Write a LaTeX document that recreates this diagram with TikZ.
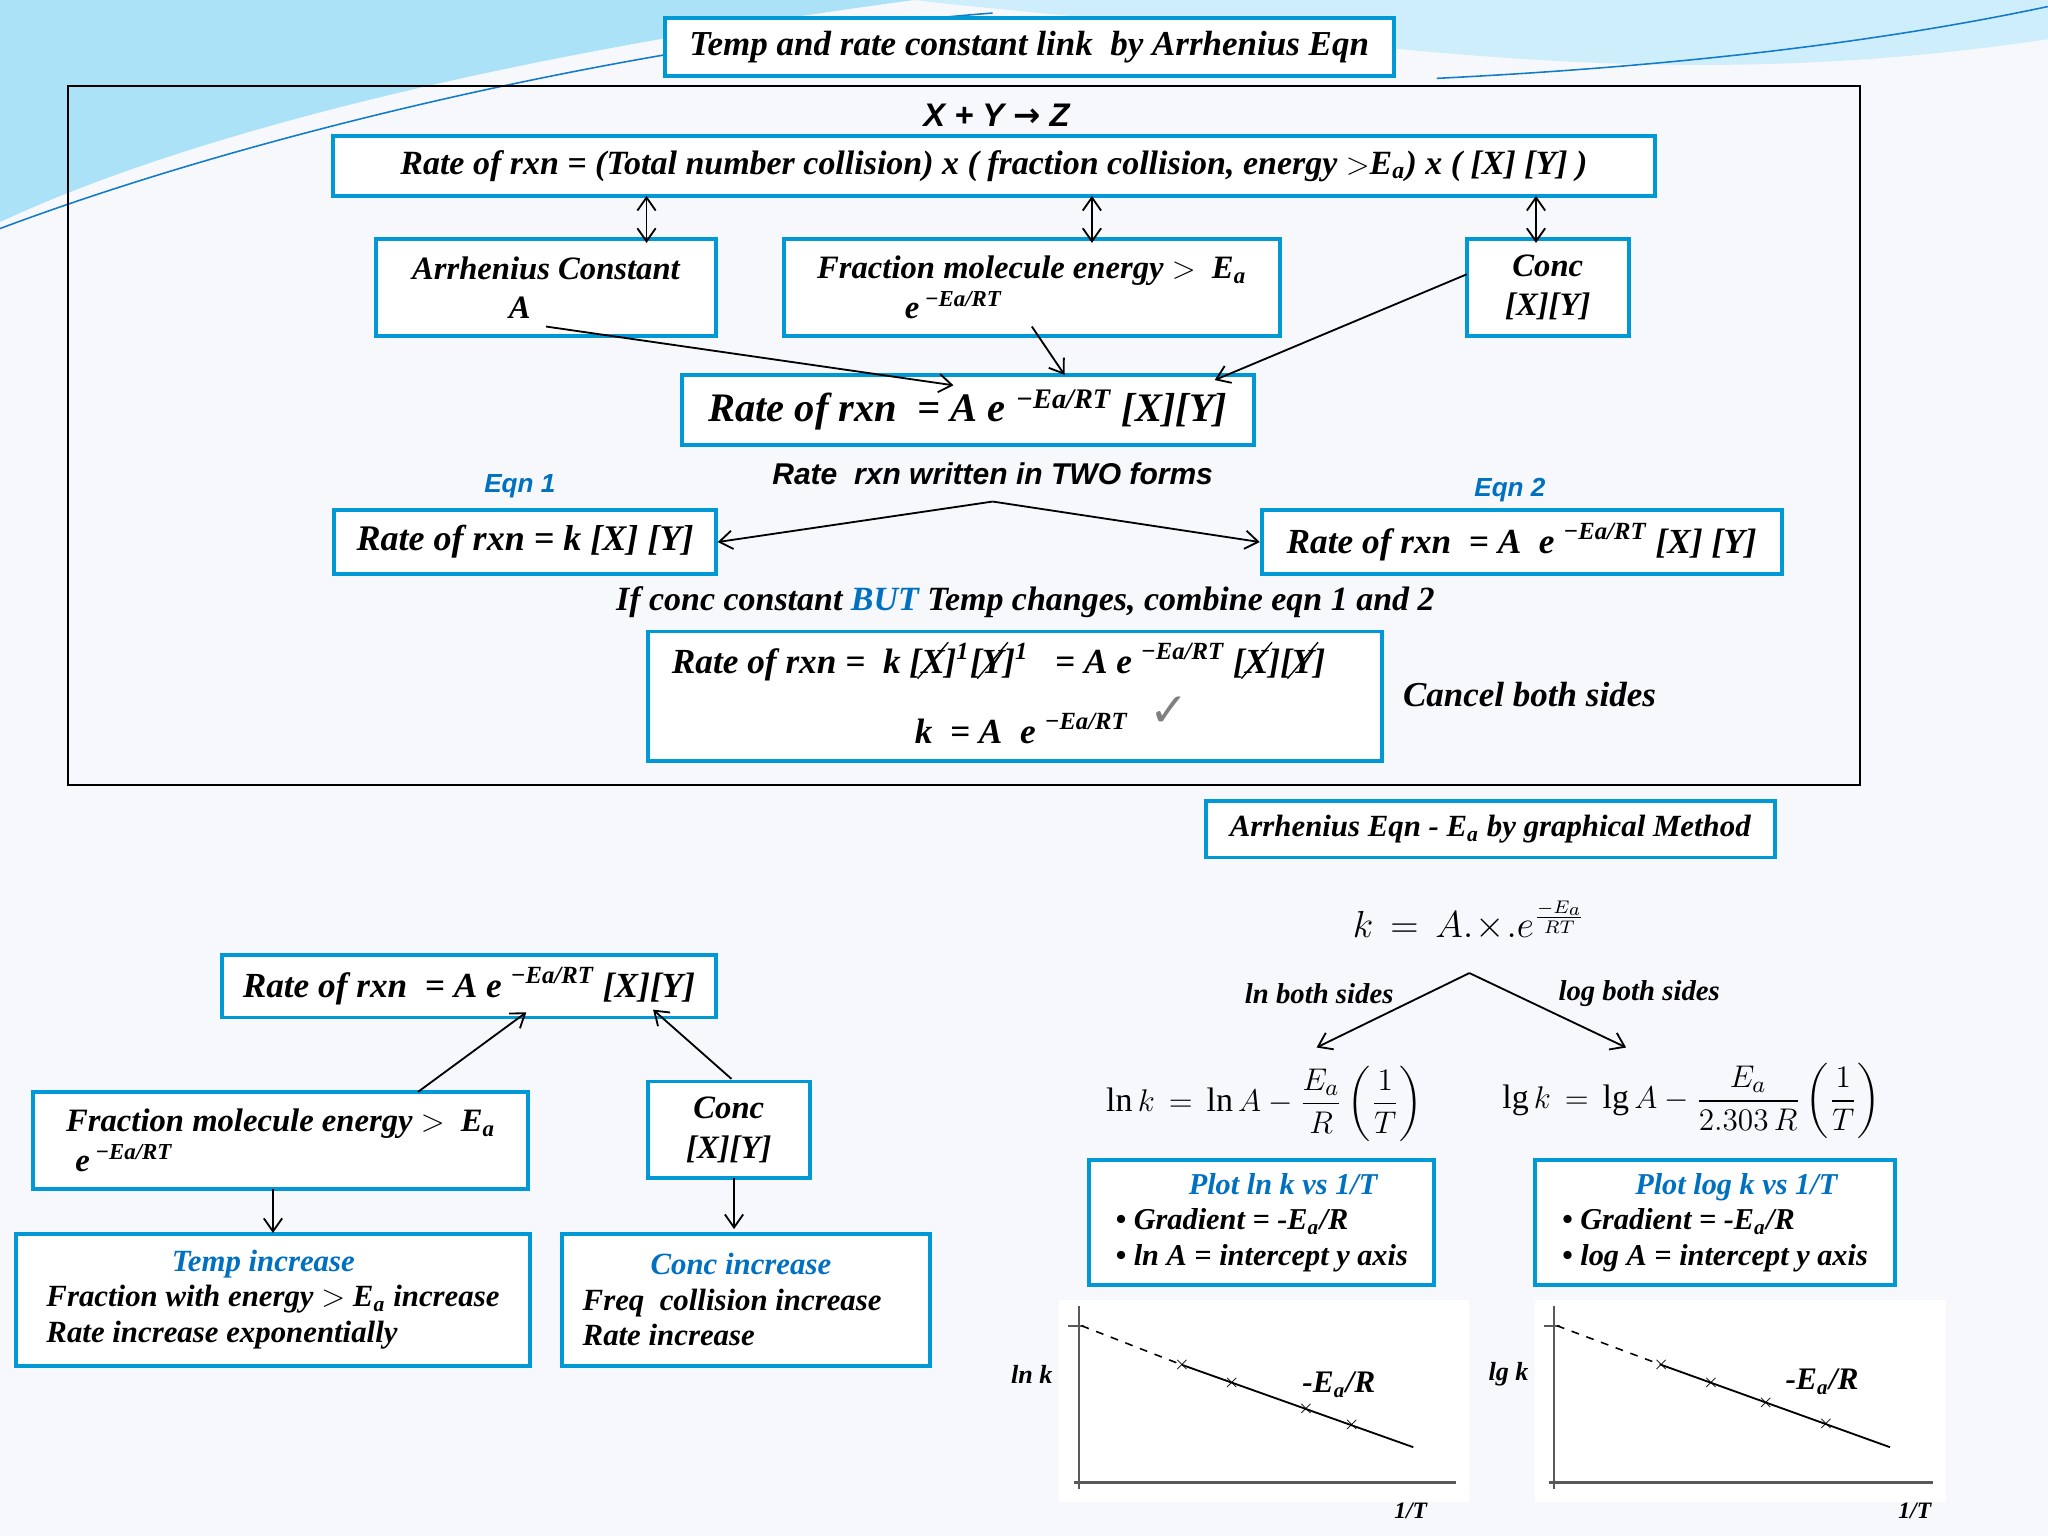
\documentclass[tikz,border=0pt]{standalone}
\usepackage{amsmath}
\usepackage{fontspec}
\setmainfont{Liberation Serif}
\setsansfont{Liberation Sans}
\newfontfamily\dejavu{DejaVu Sans}
\usetikzlibrary{arrows.meta}
\definecolor{bx}{RGB}{0,153,214}
\definecolor{bt}{RGB}{0,112,192}
\definecolor{bg}{RGB}{246,248,251}
\newcommand\strk[1]{\ooalign{#1\cr\hidewidth\raisebox{-0.35ex}{\rotatebox{50}{\rule{1.35em}{0.5pt}}}\hidewidth\cr}}
\tikzset{
 bbox/.style={draw=bx,line width=1.5pt,fill=white,inner sep=0pt,align=center,font=\fontsize{12.5}{15}\selectfont\bfseries\itshape},
 arr/.style={-{Straight Barb[length=5pt,width=7pt]},line width=0.7pt},
 darr/.style={{Straight Barb[length=5pt,width=7pt]}-{Straight Barb[length=5pt,width=7pt]},line width=0.7pt},
 lbl/.style={font=\fontsize{12}{14}\selectfont\bfseries\itshape,inner sep=1pt},
 blu/.style={lbl,text=bt,font=\fontsize{10}{12}\selectfont\sffamily\bfseries\itshape},
 ax/.style={line width=0.8pt,gray!70!black}
}
\begin{document}
\begin{tikzpicture}[x=0.5pt,y=-0.5pt]
\useasboundingbox (0,0) rectangle (1568,1176);
\fill[bg] (0,0) rectangle (1568,1176);
% swooshes
\fill[cyan!45!white,opacity=0.7] (0,0) -- (700,0) .. controls (400,40) and (150,100) .. (0,170) -- cycle;
\fill[cyan!25!white,opacity=0.7] (700,0) -- (1568,0) -- (1568,30) .. controls (1300,70) and (1100,40) .. (900,20) .. controls (800,10) and (740,5) .. (700,0) -- cycle;
\draw[cyan!60!blue,line width=0.6pt] (0,175) .. controls (200,100) and (500,30) .. (760,10);
\draw[cyan!60!blue,line width=0.6pt] (1100,60) .. controls (1300,50) and (1450,30) .. (1568,5);

\node[bbox,minimum width=279,minimum height=22.5,font=\fontsize{13.4}{15}\selectfont\bfseries\itshape] (title) at (788,36) {Temp and rate constant link\ \ by Arrhenius Eqn};
\draw[line width=0.6pt] (52,66) rectangle (1424,601);
\node[font=\fontsize{12.5}{14}\selectfont\sffamily\bfseries\itshape] (xyz) at (763,88) {X + Y {\dejavu →} Z};
\node[bbox,minimum width=506,minimum height=23,font=\fontsize{13}{15}\selectfont\bfseries\itshape] (rate) at (761,127) {Rate of rxn = (Total number collision) x ( fraction collision, energy $>$E\textsubscript{a}) x ( [X] [Y] )};
\node[bbox,minimum width=130,minimum height=37] (arr) at (418,220) {Arrhenius Constant\\A\hspace*{20pt}};
\node[bbox,minimum width=190,minimum height=37] (frac) at (790,220) {Fraction molecule energy $>$\ \ E\textsubscript{a}\\e\,\textsuperscript{\itshape\bfseries −Ea/RT}\hspace*{60pt}};
\node[bbox,minimum width=62,minimum height=37] (conc) at (1185,220) {Conc\\\relax [X][Y]};
\node[bbox,minimum width=219,minimum height=27,font=\fontsize{15.5}{18}\selectfont\bfseries\itshape] (rbig) at (741,314) {Rate of rxn\ \ = A e \textsuperscript{−Ea/RT} [X][Y]};
\draw[darr] (495,150) -- (495,186);
\draw[darr] (836,150) -- (836,186);
\draw[darr] (1176,150) -- (1176,186);
\draw[arr] (418,250) -- (730,295);
\draw[arr] (790,250) -- (815,287);
\draw[arr] (1123,210) -- (930,291);
\node[font=\fontsize{11.5}{14}\selectfont\sffamily\bfseries\itshape] (two) at (760,363) {Rate\ \ rxn written in TWO forms};
\node[blu] (e1) at (398,372) {Eqn 1};
\node[blu] (e2) at (1156,375) {Eqn 2};
\node[bbox,minimum width=146,minimum height=24.5,font=\fontsize{13.8}{15}\selectfont\bfseries\itshape] (eq1) at (402,415) {Rate of rxn = k [X] [Y]};
\node[bbox,minimum width=199,minimum height=24.5,font=\fontsize{13.5}{15}\selectfont\bfseries\itshape] (eq2) at (1165,415) {Rate of rxn\ \ = A\ \ e \textsuperscript{−Ea/RT} [X] [Y]};
\coordinate (sp) at (760,384);
\draw[arr] (sp) -- (eq1.east);
\draw[arr] (sp) -- (eq2.west);
\node[lbl,font=\fontsize{13}{15}\selectfont\bfseries\itshape] (ifc) at (785,461) {If conc constant {\color{bt}BUT} Temp changes, combine eqn 1 and 2};
\node[bbox,minimum width=281,minimum height=49.5] (comb) at (777,533) {};
\node[lbl,font=\fontsize{13.5}{15}\selectfont\bfseries\itshape,anchor=west] (c1) at (512,507) {Rate of rxn =\ \ k \strk{[X]}\textsuperscript{1}\strk{[Y]}\textsuperscript{1}\ \ \ = A e \textsuperscript{−Ea/RT}\ \strk{[X]}\strk{[Y]}};
\node[lbl,font=\fontsize{13.5}{15}\selectfont\bfseries\itshape] (c2) at (782,558) {k\ \ = A\ \ e \textsuperscript{−Ea/RT}};
\node[text=gray,font=\dejavu\fontsize{18}{18}\selectfont] (chk) at (895,545) {✓};
\node[lbl,font=\fontsize{13.4}{15}\selectfont\bfseries\itshape] (canc) at (1171,532) {Cancel both sides};

\node[bbox,minimum width=218,minimum height=21.5,font=\fontsize{11.8}{15}\selectfont\bfseries\itshape] (graph) at (1141,635) {Arrhenius Eqn - E\textsubscript{a} by graphical Method};
\node[font=\fontsize{14}{16}\selectfont] (keq) at (1125,705) {$k\,=\,A.\!\times\!.e^{\frac{-E_a}{RT}}$};
\coordinate (kb) at (1125,745);
\node[lbl,font=\fontsize{11}{12}\selectfont\bfseries\itshape] (lnb) at (1010,761) {ln both sides};
\node[lbl,font=\fontsize{11}{12}\selectfont\bfseries\itshape] (lgb) at (1255,761) {log both sides};
\node[font=\fontsize{13}{16}\selectfont] (lneq) at (968,845) {$\ln k\,=\,\ln A - \dfrac{E_a}{R}\left(\dfrac{1}{T}\right)$};
\node[font=\fontsize{13}{16}\selectfont] (lgeq) at (1295,843) {$\lg k\,=\,\lg A - \dfrac{E_a}{2.303\,R}\left(\dfrac{1}{T}\right)$};
\draw[arr] (kb) -- (1008,802);
\draw[arr] (kb) -- (1245,802);
\node[bbox,minimum width=132,minimum height=48,font=\fontsize{11.6}{13.5}\selectfont\bfseries\itshape,align=left] (pln) at (966,936) {\hspace*{28pt}{\color{bt}Plot ln k vs 1/T}\\• Gradient = -E\textsubscript{a}/R\\• ln A = intercept y axis};
\node[bbox,minimum width=138,minimum height=48,font=\fontsize{11.6}{13.5}\selectfont\bfseries\itshape,align=left] (plg) at (1313,936) {\hspace*{28pt}{\color{bt}Plot log k vs 1/T}\\• Gradient = -E\textsubscript{a}/R\\• log A = intercept y axis};
% graphs
\foreach \ox/\ex in {826/1115,1190/1480}{
 \fill[white] (\ox-15,995) rectangle (\ex+10,1150);
 \draw[ax] (\ox,1000) -- (\ox,1140);
 \draw[ax] (\ox-8,1015) -- (\ox+4,1015);
 \draw[ax] (\ox-4,1135) -- (\ex,1135);
}
\draw[dashed,line width=0.6pt] (828,1015) -- (905,1045);
\draw[line width=0.7pt] (905,1045) -- (1082,1108);
\foreach \x in {905,943,1000,1035} \node[font=\fontsize{7}{7}\selectfont] at (\x,{1045+(\x-905)*63/177}) {$\times$};
\draw[dashed,line width=0.6pt] (1192,1015) -- (1272,1045);
\draw[line width=0.7pt] (1272,1045) -- (1447,1108);
\foreach \x in {1272,1310,1352,1398} \node[font=\fontsize{7}{7}\selectfont] at (\x,{1045+(\x-1272)*63/175}) {$\times$};
\node[lbl,font=\fontsize{10}{12}\selectfont\bfseries\itshape] (lnk) at (790,1052) {ln k};
\node[lbl] (s1) at (1025,1060) {-E\textsubscript{a}/R};
\node[lbl,font=\fontsize{9}{12}\selectfont\bfseries\itshape] (t1) at (1080,1157) {1/T};
\node[lbl,font=\fontsize{10}{12}\selectfont\bfseries\itshape] (lgk) at (1155,1052) {lg k};
\node[lbl] (s2) at (1395,1058) {-E\textsubscript{a}/R};
\node[lbl,font=\fontsize{9}{12}\selectfont\bfseries\itshape] (t2) at (1466,1157) {1/T};

% bottom left
\node[bbox,minimum width=189,minimum height=24,font=\fontsize{13.5}{15}\selectfont\bfseries\itshape] (rb) at (359,755) {Rate of rxn\ \ = A e \textsuperscript{−Ea/RT} [X][Y]};
\node[bbox,minimum width=189.5,minimum height=37] (fb) at (215,873) {Fraction molecule energy $>$\ \ E\textsubscript{a}\\e\,\textsuperscript{−Ea/RT}\hspace*{120pt}};
\node[bbox,minimum width=62,minimum height=37] (cb) at (558,865) {Conc\\\relax [X][Y]};
\node[bbox,minimum width=197,minimum height=50.5,font=\fontsize{11.8}{13.5}\selectfont\bfseries\itshape,align=left] (tb) at (209,995) {\hspace*{48pt}{\color{bt}Temp increase}\\Fraction with energy $>$ E\textsubscript{a} increase\\Rate increase exponentially};
\node[bbox,minimum width=141,minimum height=50.5,font=\fontsize{11.8}{13.5}\selectfont\bfseries\itshape,align=left] (ci) at (571,995) {\hspace*{26pt}{\color{bt}Conc increase}\\Freq\ \ collision increase\\Rate increase\phantom{aaaaaaaaaa}};
\draw[arr] (320,836) -- (403,775);
\draw[arr] (560,826) -- (500,773);
\draw[arr] (209,910) -- (209,944);
\draw[arr] (562,902) -- (562,941);
\end{tikzpicture}
\end{document}
